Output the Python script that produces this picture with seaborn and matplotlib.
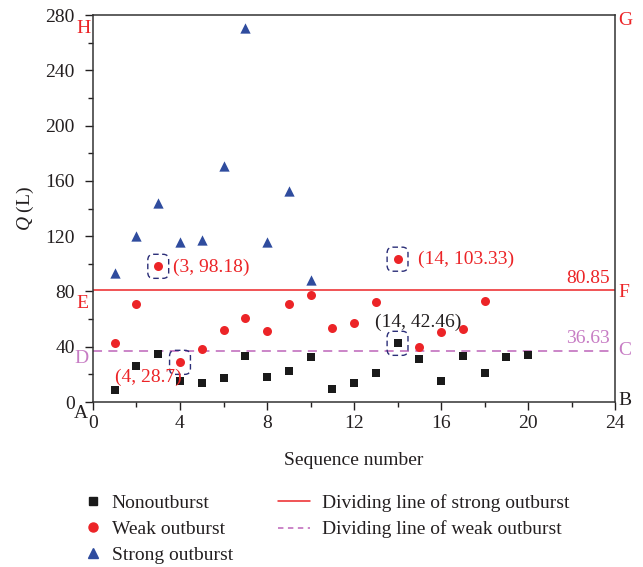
import matplotlib
matplotlib.use('Agg')
import matplotlib.pyplot as plt
from matplotlib.lines import Line2D
from matplotlib.patches import FancyBboxPatch
import seaborn as sns
import numpy as np
import pandas as pd

### Data
############################################################################

non_x = list(range(1, 21))
non_q = [8.7, 26.0, 35.0, 15.0, 13.5, 17.4, 33.3, 18.3, 22.2, 32.3,
         9.2, 13.5, 20.8, 42.46, 31.3, 15.0, 33.3, 20.8, 32.3, 33.8]

weak_x = list(range(1, 19))
weak_q = [42.4, 71.1, 98.18, 28.7, 38.6, 52.3, 61.0, 51.3, 71.1, 77.4,
          53.3, 57.1, 72.6, 103.33, 39.5, 50.6, 53.1, 72.8]

strong_x = list(range(1, 11))
strong_q = [93.5, 120.0, 143.7, 115.7, 117.4, 170.6, 270.7, 115.7, 153.0, 88.0]

strong_line = 80.85
weak_line = 36.63

# highlighted points: (x, y, label, colour)
callouts = [(3, 98.18, '(3, 98.18)', 'red'),
            (4, 28.7, '(4, 28.7)', 'red'),
            (14, 103.33, '(14, 103.33)', 'red'),
            (14, 42.46, '(14, 42.46)', 'black')]

### Style
############################################################################

sns.set_style('ticks')
plt.rcParams['font.family'] = ['Liberation Serif', 'DejaVu Serif']
plt.rcParams['mathtext.fontset'] = 'custom'
plt.rcParams['mathtext.it'] = 'Liberation Serif:italic'
fs = 14
c_black = '#1a1a1a'
c_red = '#ec2427'
c_blue = '#2f4c9e'
c_purple = '#c77cc4'
c_box = '#2b2e78'
txt = '#231f20'

df = pd.concat([
    pd.DataFrame({'x': non_x, 'Q': non_q, 'kind': 'Nonoutburst'}),
    pd.DataFrame({'x': weak_x, 'Q': weak_q, 'kind': 'Weak outburst'}),
    pd.DataFrame({'x': strong_x, 'Q': strong_q, 'kind': 'Strong outburst'}),
])

fig = plt.figure(figsize=(6.43, 5.67), dpi=100)
ax = fig.add_axes([0.1446, 0.291, 0.812, 0.6825])

palette = {'Nonoutburst': c_black, 'Weak outburst': c_red, 'Strong outburst': c_blue}
markers = {'Nonoutburst': 's', 'Weak outburst': 'o', 'Strong outburst': '^'}
sizes = {'Nonoutburst': 32, 'Weak outburst': 42, 'Strong outburst': 55}
for k, sub in df.groupby('kind', sort=False):
    sns.scatterplot(data=sub, x='x', y='Q', color=palette[k], marker=markers[k],
                    s=sizes[k], linewidth=0, ax=ax, legend=False, zorder=3)

ax.axhline(strong_line, color=c_red, lw=1.1, zorder=2)
ax.axhline(weak_line, color=c_purple, lw=1.3, ls=(0, (5, 3.5)), zorder=2)

ax.set_xlim(0, 24)
ax.set_ylim(0, 280)
ax.set_xticks(np.arange(0, 25, 4))
ax.set_xticks(np.arange(0, 25, 2), minor=True)
ax.set_yticks(np.arange(0, 281, 40))
ax.set_yticks(np.arange(0, 281, 20), minor=True)
ax.tick_params(which='both', direction='out', top=False, right=False,
               labelsize=fs, colors=txt, width=1)
ax.tick_params(which='major', length=6)
ax.tick_params(axis='y', which='major', pad=7)
ax.tick_params(which='minor', length=3.5)
for s in ax.spines.values():
    s.set_linewidth(1.1)
    s.set_color('#333333')
ax.set_xlabel('Sequence number', fontsize=fs, color=txt, labelpad=14)
ax.set_ylabel(r'$Q$ (L)', fontsize=fs, color=txt, labelpad=7)

# value labels of dividing lines
ax.text(23.75, 89.2, '80.85', color=c_red, fontsize=fs, ha='right', va='center')
ax.text(23.75, 45.8, '36.63', color=c_purple, fontsize=fs, ha='right', va='center')

# corner letters
letters = [('H', -0.12, 270, c_red, 'right'), ('G', 24.15, 276, c_red, 'left'),
           ('E', -0.2, 71.4, c_red, 'right'), ('F', 24.15, 79.3, c_red, 'left'),
           ('D', -0.2, 31.6, c_purple, 'right'), ('C', 24.15, 37.4, c_purple, 'left'),
           ('A', -0.25, -8.2, txt, 'right'), ('B', 24.15, 1.2, txt, 'left')]
for t, lx, ly, c, ha in letters:
    ax.text(lx, ly, t, color=c, fontsize=fs, ha=ha, va='center', clip_on=False)

# callouts with dashed boxes
label_pos = {'(3, 98.18)': (3.68, 97.6), '(4, 28.7)': (1.0, 18.1),
             '(14, 103.33)': (14.94, 103.2), '(14, 42.46)': (12.97, 57.8)}
for px, py, lab, c in callouts:
    box = FancyBboxPatch((px - 0.38, py - 7.0), 0.76, 14.0,
                         boxstyle='round,pad=0.1,rounding_size=0.25',
                         mutation_aspect=17, fill=False, edgecolor=c_box,
                         lw=1.0, ls=(0, (4, 2.5)), zorder=4)
    ax.add_patch(box)
    tx, ty = label_pos[lab]
    ax.text(tx, ty, lab, color=c_red if c == 'red' else txt, fontsize=fs,
            ha='left', va='center', zorder=5)

# legends under the plot
h1 = [Line2D([], [], ls='none', marker=markers[k], color=palette[k], markersize=ms)
      for k, ms in zip(['Nonoutburst', 'Weak outburst', 'Strong outburst'], [5.5, 6.5, 7])]
leg1 = fig.legend(h1, ['Nonoutburst', 'Weak outburst', 'Strong outburst'],
                  loc='upper left', bbox_to_anchor=(0.130, 0.128),
                  frameon=False, fontsize=fs, handlelength=1.0, handletextpad=0.45,
                  labelspacing=0.42, borderaxespad=0, borderpad=0)
h2 = [Line2D([], [], color=c_red, lw=1.1),
      Line2D([], [], color=c_purple, lw=1.3, ls=(0, (3, 2.5)))]
leg2 = fig.legend(h2, ['Dividing line of strong outburst', 'Dividing line of weak outburst'],
                  loc='upper left', bbox_to_anchor=(0.432, 0.128),
                  frameon=False, fontsize=fs, handlelength=1.65, handletextpad=0.65,
                  labelspacing=0.42, borderaxespad=0, borderpad=0)
for lg in (leg1, leg2):
    for t in lg.get_texts():
        t.set_color(txt)

fig.savefig('out.png', dpi=100)
